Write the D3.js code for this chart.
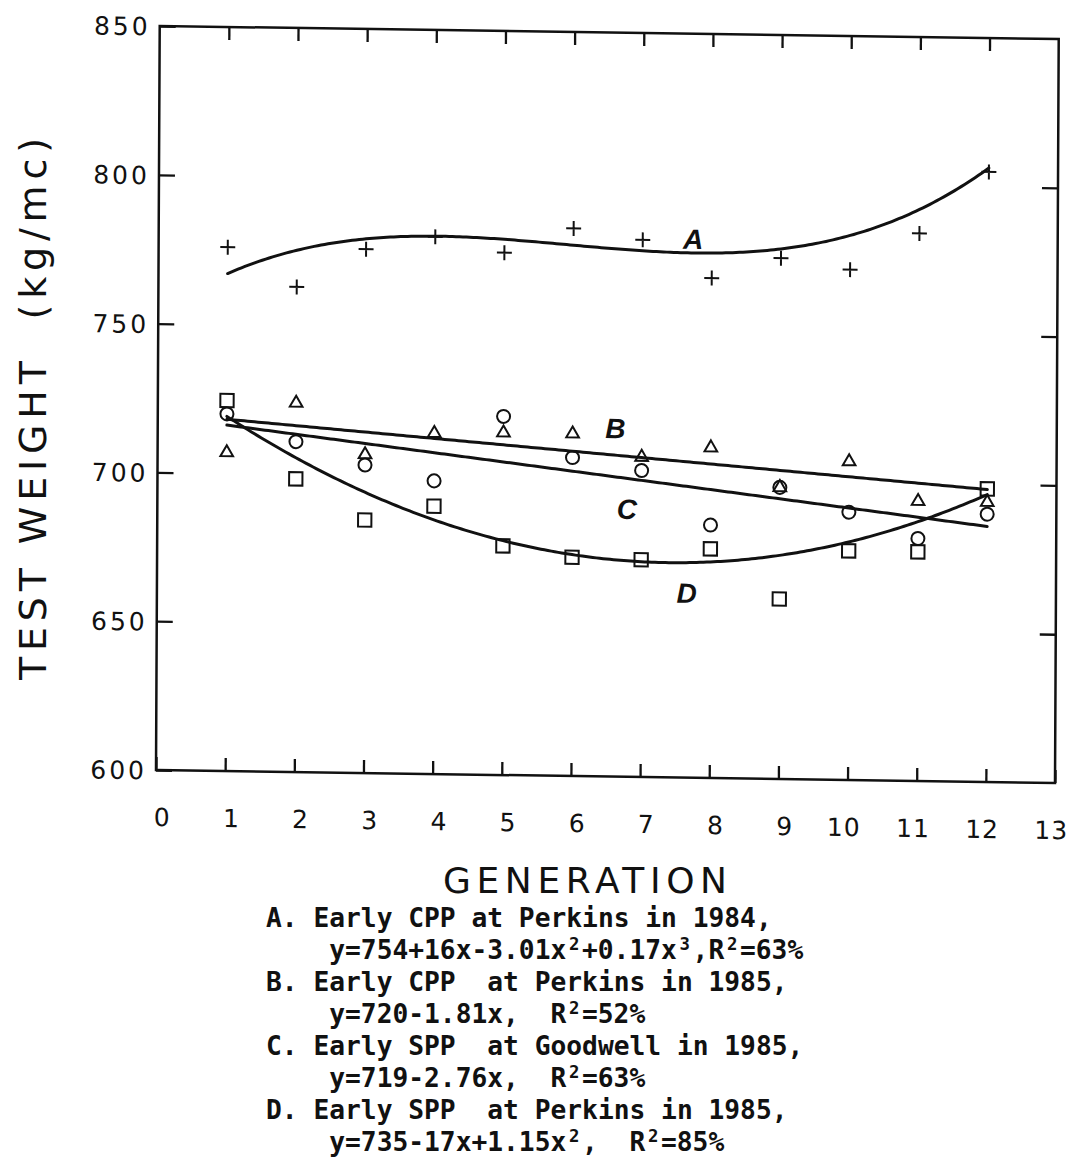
<!DOCTYPE html>
<html>
<head>
<meta charset="utf-8">
<script src="https://cdn.jsdelivr.net/npm/d3@7"></script>
<style>
  html, body { margin: 0; padding: 0; background: #fff; }
  svg { display: block; }
  .pre { white-space: pre; }
</style>
</head>
<body>
<svg id="chart" width="1074" height="1159"></svg>
<script>
// Test weight (kg/mc) by generation for four early populations
const generations = [1, 2, 3, 4, 5, 6, 7, 8, 9, 10, 11, 12];
const xTicks = [0, 1, 2, 3, 4, 5, 6, 7, 8, 9, 10, 11, 12, 13];
const yTicks = [600, 650, 700, 750, 800, 850];

// observed means (A: +, B: triangle, C: circle, D: square)
const seriesA = [776, 763, 776, 780.5, 775.5, 784, 780.5, 768, 775, 771.5, 784, 805];
const seriesB = [707, 724, 707, 714.5, 715, 715, 707.5, 711, 698, 707, 694, 694];
const seriesC = [720, 711, 703.5, 698.5, 720.5, 707, 703, 685, 698, 690, 681.5, 690];
const seriesD = [724.5, 698.5, 685, 690, 677, 673.5, 673, 677, 660.5, 677, 677, 698.5];

// fitted regression coefficients, constant term first
const fitA = [754, 16, -3.01, 0.17];
const fitB = [720, -1.81];
const fitC = [719, -2.76];
const fitD = [735, -17, 1.15];

const curveNames = ["A", "B", "C", "D"];
const curveNameAt = [[7.73, 781], [6.62, 717], [6.79, 690], [7.66, 662]];

const captionLines = [
  [["A. Early CPP at Perkins in 1984,"]],
  [["    y=754+16x-3.01x"], ["2", 1], ["+0.17x"], ["3", 1], [",R"], ["2", 1], ["=63%"]],
  [["B. Early CPP  at Perkins in 1985,"]],
  [["    y=720-1.81x,  R"], ["2", 1], ["=52%"]],
  [["C. Early SPP  at Goodwell in 1985,"]],
  [["    y=719-2.76x,  R"], ["2", 1], ["=63%"]],
  [["D. Early SPP  at Perkins in 1985,"]],
  [["    y=735-17x+1.15x"], ["2", 1], [",  R"], ["2", 1], ["=85%"]]
];

const svg = d3.select("#chart");
const ink = "#111";

const plotW = 899, plotH = 744;
const x = d3.scaleLinear().domain([0, 13]).range([0, plotW]);
const y = d3.scaleLinear().domain([600, 850]).range([0, -plotH]);

// plot area: origin at the lower-left corner, with the slight slant of the original sheet
const plot = svg.append("g")
  .attr("transform", "matrix(1,0.0145,-0.005,1,156,770)");

plot.append("rect")
  .attr("x", x(0)).attr("y", y(850))
  .attr("width", x(13) - x(0)).attr("height", y(600) - y(850))
  .attr("fill", "none").attr("stroke", ink).attr("stroke-width", 2.5);

function styleAxis(g) {
  g.select(".domain").remove();
  g.selectAll(".tick line").attr("stroke", ink).attr("stroke-width", 2.3);
  g.attr("font-family", "'DejaVu Sans', sans-serif").attr("font-size", 25);
  g.selectAll("text").attr("fill", ink);
}

// bottom axis with generation labels
const gBottom = plot.append("g")
  .call(d3.axisBottom(x).tickValues(xTicks).tickSizeInner(-13).tickSizeOuter(0).tickFormat(d3.format("d")))
  .call(styleAxis);
gBottom.selectAll("text")
  .attr("y", 56).attr("dy", null)
  .attr("dx", d => (d < 10 ? 6 : -4))
  .attr("letter-spacing", 1);

// top axis ticks
plot.append("g")
  .attr("transform", `translate(0,${y(850)})`)
  .call(d3.axisTop(x).tickValues(generations).tickSize(-13).tickFormat(() => ""))
  .call(styleAxis);

// left axis with weight labels
const gLeft = plot.append("g")
  .call(d3.axisLeft(y).tickValues(yTicks).tickSize(-16).tickFormat(d3.format("d")))
  .call(styleAxis);
gLeft.selectAll("text")
  .attr("x", -9).attr("dy", "0.36em")
  .attr("letter-spacing", 3);

// right axis ticks
plot.append("g")
  .attr("transform", `translate(${x(13)},0)`)
  .call(d3.axisRight(y).tickValues([650, 700, 750, 800]).tickSize(-16).tickFormat(() => ""))
  .call(styleAxis);

// regression curves
const poly = (c, g) => c.reduce((s, ci, i) => s + ci * Math.pow(g, i), 0);
const grid = d3.range(1, 12.0001, 0.05);
const line = d3.line().x(d => x(d[0])).y(d => y(d[1])).curve(d3.curveLinear);
[fitA, fitB, fitC, fitD].forEach(c => {
  plot.append("path")
    .attr("d", line(grid.map(g => [g, poly(c, g)])))
    .attr("fill", "none").attr("stroke", ink).attr("stroke-width", 3)
    .attr("stroke-linejoin", "round").attr("stroke-linecap", "round");
});

// observed points
const markers = [
  [seriesA, d3.symbolPlus, 75],
  [seriesB, d3.symbolTriangle2, 115],
  [seriesC, d3.symbolCircle, 133],
  [seriesD, d3.symbolSquare2, 226]
];
markers.forEach(([vals, type, size]) => {
  plot.append("g").selectAll("path")
    .data(vals)
    .join("path")
    .attr("transform", (v, i) => `translate(${x(generations[i])},${y(v)})`)
    .attr("d", d3.symbol().type(type).size(size))
    .attr("fill", "none").attr("stroke", ink).attr("stroke-width", 2);
});

// curve letters
plot.append("g").selectAll("text")
  .data(curveNames)
  .join("text")
  .attr("x", (d, i) => x(curveNameAt[i][0]))
  .attr("y", (d, i) => y(curveNameAt[i][1]))
  .attr("dy", "0.35em")
  .attr("text-anchor", "middle")
  .attr("font-family", "'Liberation Sans', Arial, sans-serif")
  .attr("font-weight", "bold").attr("font-style", "italic")
  .attr("font-size", 28).attr("fill", ink)
  .text(d => d);

// axis titles
svg.append("text")
  .attr("x", 585).attr("y", 893)
  .attr("text-anchor", "middle")
  .attr("font-family", "'DejaVu Sans', sans-serif")
  .attr("font-size", 36).attr("fill", ink)
  .attr("textLength", 284).attr("lengthAdjust", "spacing")
  .text("GENERATION");

svg.append("text")
  .attr("transform", "translate(46,409) rotate(-90)")
  .attr("text-anchor", "middle")
  .attr("font-family", "'DejaVu Sans', sans-serif")
  .attr("font-size", 38).attr("fill", ink)
  .attr("textLength", 542).attr("lengthAdjust", "spacing")
  .attr("class", "pre")
  .text("TEST WEIGHT  (kg/mc)");

// caption with regression equations, monospaced columns
const cellW = 15.8, capX = 266, capSize = 26.25, capTop = 927, capStep = 32;
const caption = svg.append("g")
  .attr("font-family", "'DejaVu Sans Mono', monospace")
  .attr("font-weight", "bold")
  .attr("fill", ink);
captionLines.forEach((segs, li) => {
  const base = capTop + li * capStep;
  let col = 0;
  segs.forEach(([t, sup]) => {
    if (sup) {
      caption.append("text")
        .attr("x", capX + (col + 0.5) * cellW)
        .attr("y", base - 9)
        .attr("text-anchor", "middle")
        .attr("font-size", capSize * 0.66)
        .text(t);
    } else {
      caption.append("text")
        .attr("class", "pre")
        .attr("x", capX + col * cellW)
        .attr("y", base)
        .attr("font-size", capSize)
        .text(t);
    }
    col += t.length;
  });
});
</script>
</body>
</html>
